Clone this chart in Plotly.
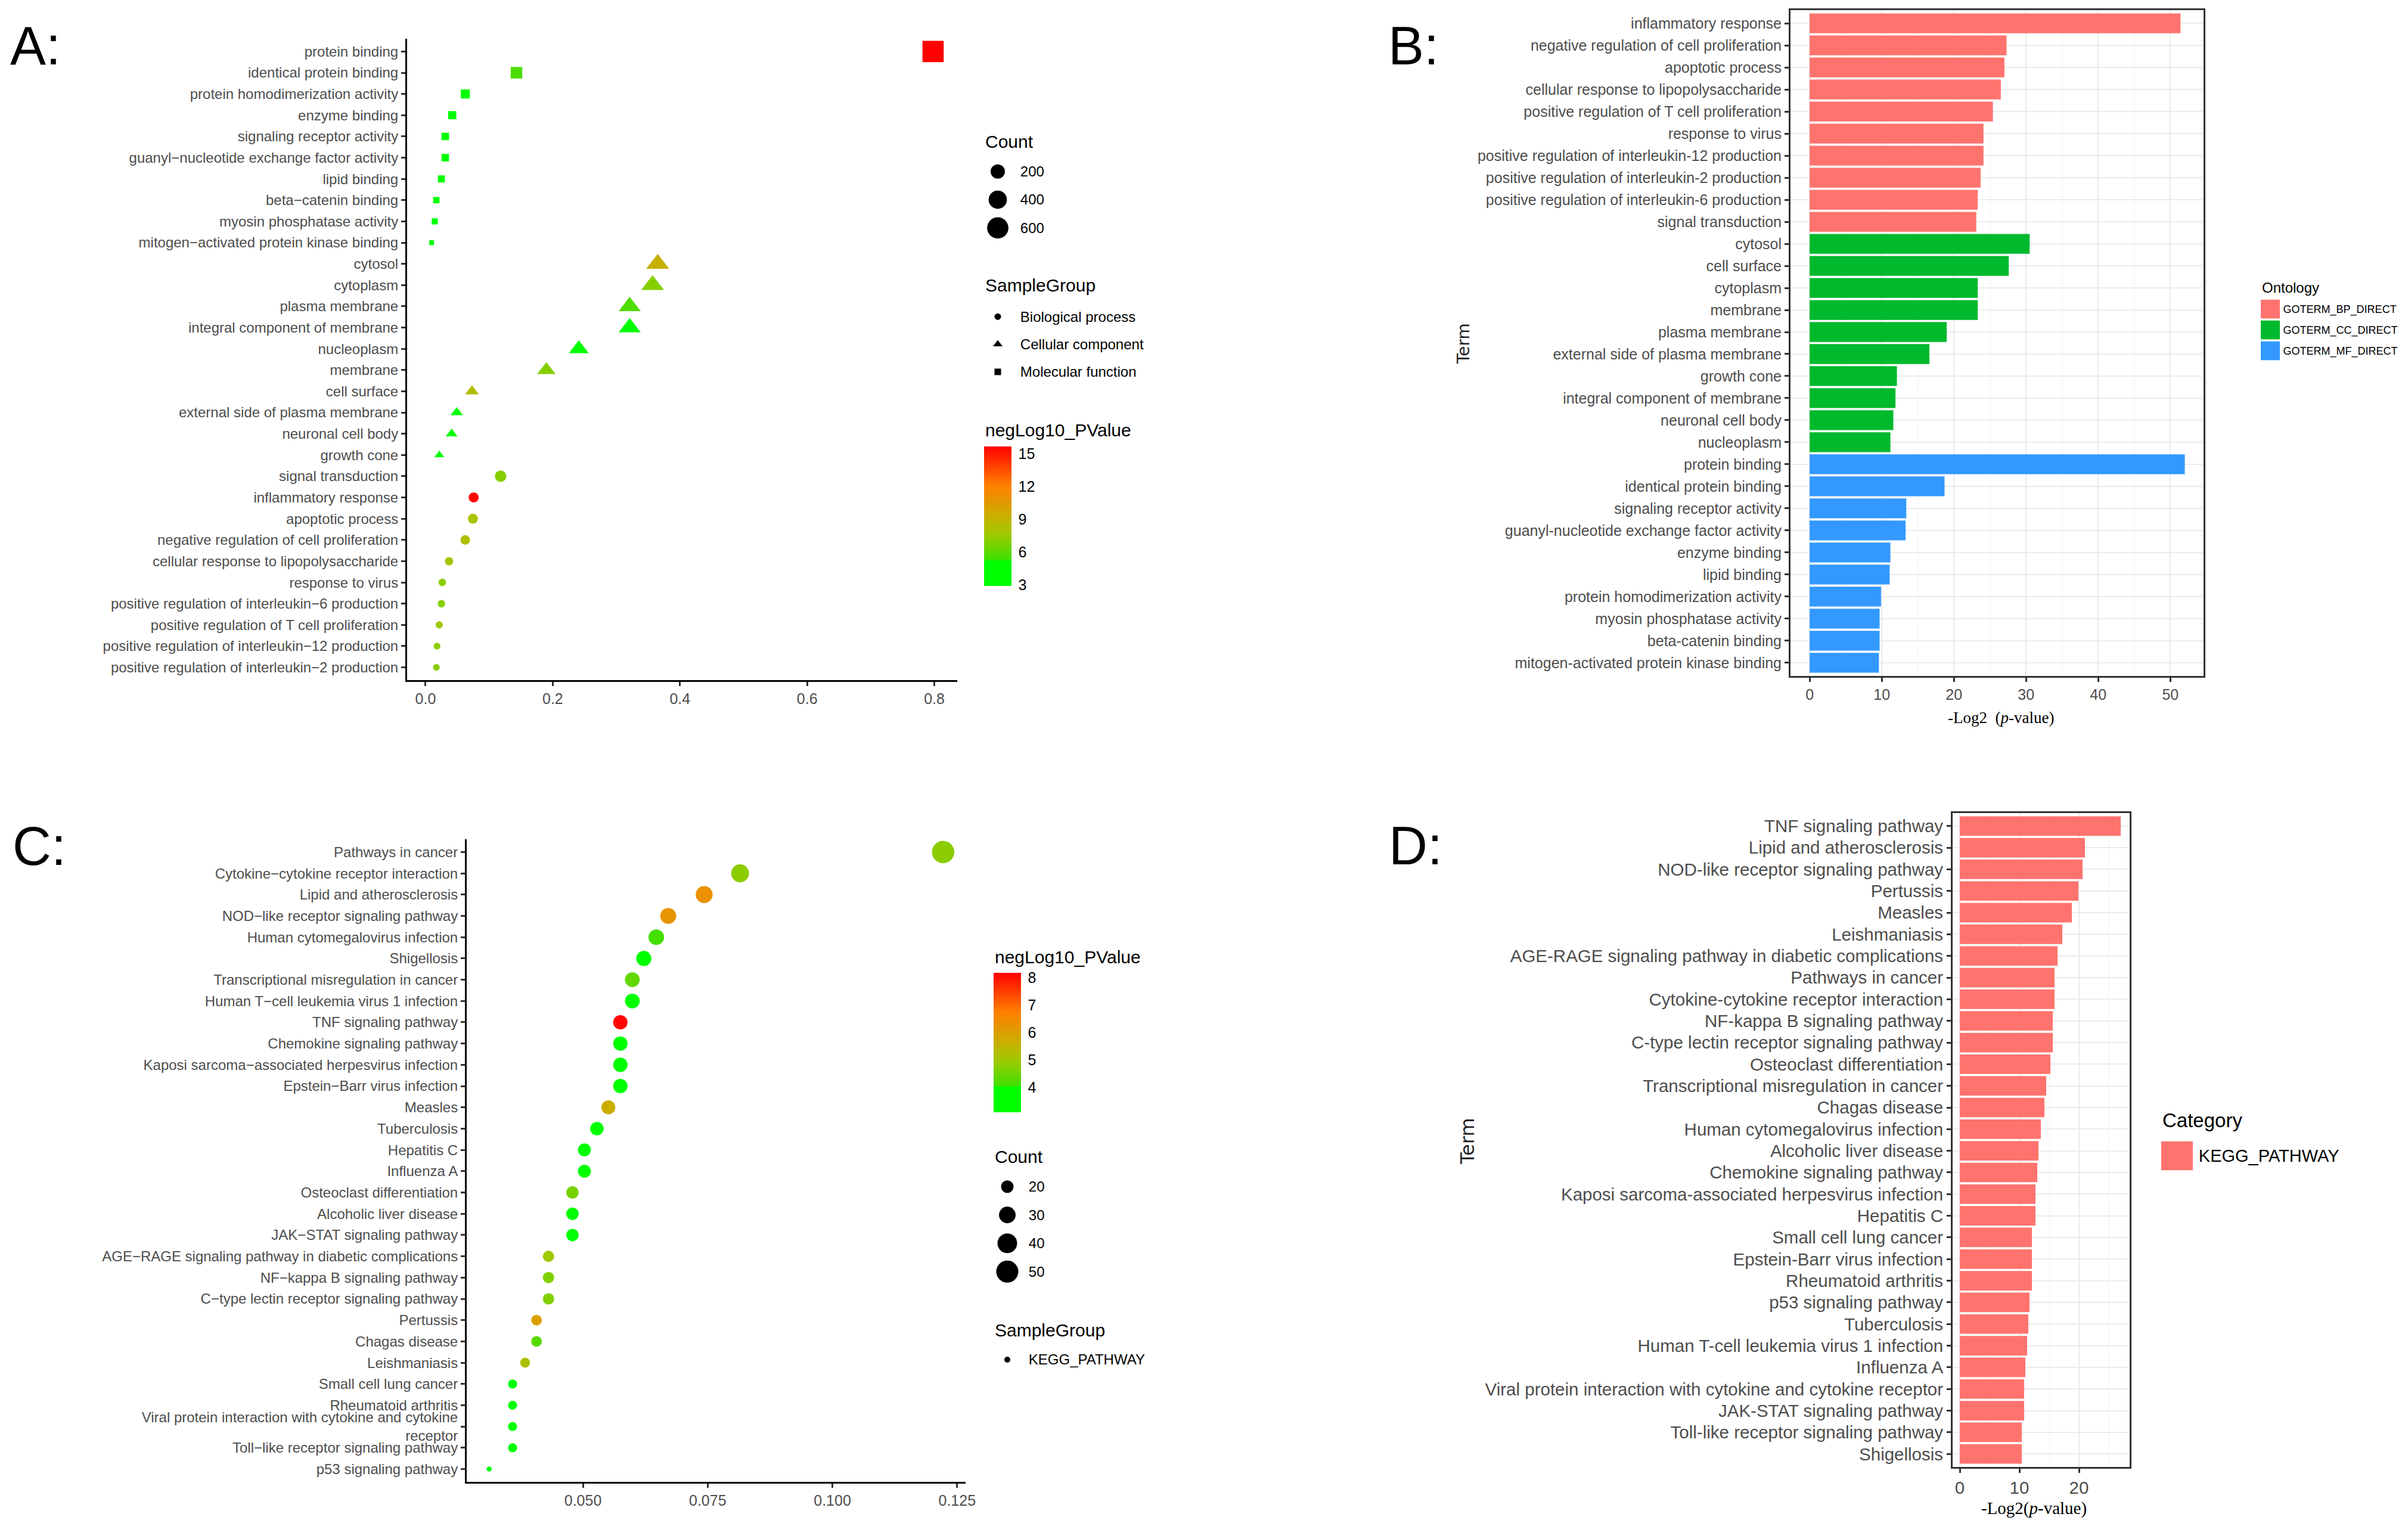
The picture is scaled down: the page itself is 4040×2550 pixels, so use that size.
import math
import plotly.graph_objects as go

W, H = 4040, 2550
PAGE_MARGIN = 8  # the browser's body margin in the written page
FIG_W, FIG_H = W - PAGE_MARGIN, H - PAGE_MARGIN
FONT = "Liberation Sans"
SERIF = "Liberation Serif"
WIDE = "DejaVu Sans"
GREY = "#4d4d4d"

# ===== PANEL A: GO dot plot =====
A_TERMS = ["protein binding", "identical protein binding", "protein homodimerization activity", "enzyme binding",
           "signaling receptor activity", "guanyl−nucleotide exchange factor activity", "lipid binding",
           "beta−catenin binding", "myosin phosphatase activity", "mitogen−activated protein kinase binding",
           "cytosol", "cytoplasm", "plasma membrane", "integral component of membrane", "nucleoplasm", "membrane",
           "cell surface", "external side of plasma membrane", "neuronal cell body", "growth cone",
           "signal transduction", "inflammatory response", "apoptotic process",
           "negative regulation of cell proliferation", "cellular response to lipopolysaccharide", "response to virus",
           "positive regulation of interleukin−6 production", "positive regulation of T cell proliferation",
           "positive regulation of interleukin−12 production", "positive regulation of interleukin−2 production"]
A_RATIO = [0.798, 0.143, 0.0625, 0.042, 0.031, 0.031, 0.025, 0.017, 0.0145, 0.0096,
           0.365, 0.357, 0.321, 0.321, 0.241, 0.19, 0.073, 0.049, 0.041, 0.0216,
           0.118, 0.0757, 0.0745, 0.0625, 0.037, 0.0264, 0.025, 0.0216, 0.018, 0.017]
A_COUNT = [680, 122, 53, 36, 26, 26, 21, 14, 12, 8,
           310, 304, 273, 273, 205, 162, 62, 42, 35, 18,
           100, 64, 63, 53, 31, 22, 21, 18, 15, 14]
A_PVAL = [15.65, 5.6, 3.0, 3.4, 4.0, 4.0, 3.35, 2.95, 2.95, 2.89,
          9.2, 7.0, 5.7, 3.6, 3.4, 7.0, 8.3, 5.0, 3.5, 3.6,
          7.0, 15.5, 8.1, 8.25, 8.0, 7.2, 7.0, 7.6, 7.2, 7.1]
A_GROUP = ["MF"] * 10 + ["CC"] * 10 + ["BP"] * 10
A_COUNT_KEY = ["200", "400", "600"]
A_GROUP_KEY = ["Biological process", "Cellular component", "Molecular function"]
A_CB_TICKS = [3, 6, 9, 12, 15]

# ===== PANEL B: GO bars =====
B_TERMS = ["inflammatory response", "negative regulation of cell proliferation", "apoptotic process",
           "cellular response to lipopolysaccharide", "positive regulation of T cell proliferation", "response to virus",
           "positive regulation of interleukin-12 production", "positive regulation of interleukin-2 production",
           "positive regulation of interleukin-6 production", "signal transduction",
           "cytosol", "cell surface", "cytoplasm", "membrane", "plasma membrane", "external side of plasma membrane",
           "growth cone", "integral component of membrane", "neuronal cell body", "nucleoplasm",
           "protein binding", "identical protein binding", "signaling receptor activity",
           "guanyl-nucleotide exchange factor activity", "enzyme binding", "lipid binding",
           "protein homodimerization activity", "myosin phosphatase activity", "beta-catenin binding",
           "mitogen-activated protein kinase binding"]
B_VALUES = [51.4, 27.3, 27.0, 26.5, 25.4, 24.1, 24.1, 23.7, 23.3, 23.1,
            30.5, 27.6, 23.3, 23.3, 19.0, 16.6, 12.1, 11.9, 11.6, 11.2,
            52.0, 18.7, 13.4, 13.3, 11.2, 11.1, 9.9, 9.7, 9.7, 9.6]
B_ONTOLOGY = ["GOTERM_BP_DIRECT"] * 10 + ["GOTERM_CC_DIRECT"] * 10 + ["GOTERM_MF_DIRECT"] * 10
B_ONTOLOGY_KEY = ["GOTERM_BP_DIRECT", "GOTERM_CC_DIRECT", "GOTERM_MF_DIRECT"]

# ===== PANEL C: KEGG dot plot =====
C_TERMS = ["Pathways in cancer", "Cytokine−cytokine receptor interaction", "Lipid and atherosclerosis",
           "NOD−like receptor signaling pathway", "Human cytomegalovirus infection", "Shigellosis",
           "Transcriptional misregulation in cancer", "Human T−cell leukemia virus 1 infection",
           "TNF signaling pathway", "Chemokine signaling pathway", "Kaposi sarcoma−associated herpesvirus infection",
           "Epstein−Barr virus infection", "Measles", "Tuberculosis", "Hepatitis C", "Influenza A",
           "Osteoclast differentiation", "Alcoholic liver disease", "JAK−STAT signaling pathway",
           "AGE−RAGE signaling pathway in diabetic complications", "NF−kappa B signaling pathway",
           "C−type lectin receptor signaling pathway", "Pertussis", "Chagas disease", "Leishmaniasis",
           "Small cell lung cancer", "Rheumatoid arthritis",
           "Viral protein interaction with cytokine and cytokine<br>receptor",
           "Toll−like receptor signaling pathway", "p53 signaling pathway"]
C_RATIO = [0.1222, 0.0815, 0.0743, 0.0671, 0.0647, 0.0622, 0.0599, 0.0599, 0.0575, 0.0575,
           0.0575, 0.0575, 0.0551, 0.0528, 0.0503, 0.0503, 0.0479, 0.0479, 0.0479, 0.0431,
           0.0431, 0.0431, 0.0407, 0.0407, 0.0384, 0.0359, 0.0359, 0.0359, 0.0359, 0.0312]
C_COUNT = [51, 34, 31, 28, 27, 26, 25, 25, 24, 24, 24, 24, 23, 22, 21, 21, 20, 20, 20, 18,
           18, 18, 17, 17, 16, 15, 15, 15, 15, 13]
C_PVAL = [4.8, 4.8, 6.3, 6.2, 4.1, 3.16, 4.4, 3.4, 8.13, 3.9, 3.9, 3.6, 5.7, 3.5, 3.85, 3.3,
          4.6, 4.0, 3.3, 5.0, 4.7, 4.7, 6.0, 4.3, 5.2, 3.6, 3.6, 3.3, 3.16, 3.55]
C_COUNT_KEY = ["20", "30", "40", "50"]
C_GROUP_KEY = ["KEGG_PATHWAY"]
C_CB_TICKS = [4, 5, 6, 7, 8]

# ===== PANEL D: KEGG bars =====
D_TERMS = ["TNF signaling pathway", "Lipid and atherosclerosis", "NOD-like receptor signaling pathway", "Pertussis",
           "Measles", "Leishmaniasis", "AGE-RAGE signaling pathway in diabetic complications", "Pathways in cancer",
           "Cytokine-cytokine receptor interaction", "NF-kappa B signaling pathway",
           "C-type lectin receptor signaling pathway", "Osteoclast differentiation",
           "Transcriptional misregulation in cancer", "Chagas disease", "Human cytomegalovirus infection",
           "Alcoholic liver disease", "Chemokine signaling pathway", "Kaposi sarcoma-associated herpesvirus infection",
           "Hepatitis C", "Small cell lung cancer", "Epstein-Barr virus infection", "Rheumatoid arthritis",
           "p53 signaling pathway", "Tuberculosis", "Human T-cell leukemia virus 1 infection", "Influenza A",
           "Viral protein interaction with cytokine and cytokine receptor", "JAK-STAT signaling pathway",
           "Toll-like receptor signaling pathway", "Shigellosis"]
D_VALUES = [27.0, 21.0, 20.6, 19.9, 18.8, 17.2, 16.4, 15.9, 15.9, 15.6,
            15.6, 15.2, 14.5, 14.2, 13.6, 13.2, 13.0, 12.7, 12.7, 12.1,
            12.1, 12.1, 11.7, 11.5, 11.3, 11.0, 10.8, 10.8, 10.4, 10.4]
D_CATEGORY_KEY = ["KEGG_PATHWAY"]

# ===== STYLE =====
COLORSCALE = [[0, "#00ff00"], [0.18, "#00ff00"], [0.19, "#40e000"], [0.375, "#a0c800"], [0.5, "#c8b000"],
              [0.65, "#f08c00"], [0.72, "#ff8000"], [1, "#ff0000"]]
ONTOLOGY_COLORS = {"GOTERM_BP_DIRECT": "#ff736e", "GOTERM_CC_DIRECT": "#00b92d", "GOTERM_MF_DIRECT": "#3399ff"}
SYMBOLS = {"BP": "circle", "CC": "triangle-up", "MF": "square"}
SHAPE_SCALE = {"BP": 1.0, "CC": 1.2, "MF": 0.95}


def fx(px):
    return (px - PAGE_MARGIN) / FIG_W


def fy(py):
    return 1 - (py - PAGE_MARGIN) / FIG_H


def gg_size(count, lo, hi):
    # same idea as ggplot's scale_size: area follows the count
    return 8.5 + 29 * math.sqrt((count - lo) / (hi - lo))


fig = go.Figure()
layout = {}
annotations = []
shapes = []
next_axis = [1]


def new_axes(x_box, y_box, xopts, yopts):
    n = next_axis[0]
    next_axis[0] += 1
    sx = "" if n == 1 else str(n)
    layout["xaxis" + sx] = dict(domain=[fx(x_box[0]), fx(x_box[1])], anchor="y" + sx, **xopts)
    layout["yaxis" + sx] = dict(domain=[fy(y_box[1]), fy(y_box[0])], anchor="x" + sx, **yopts)
    return "x" + sx, "y" + sx


def label(text, x, y, size, **kw):
    opts = dict(xanchor="left", yanchor="middle", showarrow=False, xref="paper", yref="paper",
                x=fx(x), y=fy(y), text=text, font=dict(size=size, family=kw.pop("family", FONT), color=kw.pop("color", "black")))
    opts.update(kw)
    annotations.append(opts)


def category_axis(terms, size, **kw):
    return dict(type="category", categoryorder="array", categoryarray=terms, range=[len(terms) - 0.4, -0.6],
                tickmode="array", tickvals=terms, ticktext=terms, tickfont=dict(size=size, color=GREY, family=FONT),
                ticks="outside", ticklen=7, tickwidth=2.5, tickcolor="#333333", showgrid=False, zeroline=False, **kw)


def dot_panel(x_box, y_box, terms, ratio, counts, pvals, symbols, sizes, xrange, xticks, xfmt, cbar, font_size):
    xa, ya = new_axes(x_box, y_box,
                      dict(range=xrange, tickvals=xticks, tickformat=xfmt, showline=True, linecolor="black",
                           linewidth=3, ticks="outside", ticklen=7, tickwidth=2.5, tickcolor="#333333",
                           showgrid=False, zeroline=False, tickfont=dict(size=25, color=GREY, family=FONT)),
                      dict(showline=True, linecolor="black", linewidth=3, **category_axis(terms, font_size)))
    fig.add_trace(go.Scatter(x=ratio, y=terms, mode="markers", xaxis=xa, yaxis=ya, showlegend=False,
                             customdata=counts,
                             marker=dict(color=pvals, symbol=symbols, size=sizes, opacity=1, line=dict(width=0),
                                         colorscale=COLORSCALE, cmin=cbar["cmin"], cmax=cbar["cmax"],
                                         colorbar=dict(x=fx(cbar["x"]), xanchor="left", y=fy(cbar["y1"]), yanchor="bottom",
                                                       len=cbar["y1"] - cbar["y0"], lenmode="pixels",
                                                       thickness=46, thicknessmode="pixels", xpad=0, ypad=0,
                                                       outlinewidth=0, borderwidth=0, tickvals=cbar["ticks"],
                                                       ticks="outside", ticklen=7, tickcolor="rgba(0,0,0,0)",
                                                       tickfont=dict(size=25, color="black", family=FONT)))))
    # white ticks inside the colour bar, both sides
    per_unit = (cbar["y1"] - cbar["y0"]) / (cbar["cmax"] - cbar["cmin"])
    for t in cbar["ticks"]:
        py = cbar["y1"] - (t - cbar["cmin"]) * per_unit
        for x0, x1 in [(cbar["x"], cbar["x"] + 9), (cbar["x"] + 37, cbar["x"] + 46)]:
            shapes.append(dict(type="line", xref="paper", yref="paper", x0=fx(x0), x1=fx(x1), y0=fy(py), y1=fy(py),
                               line=dict(color="white", width=1.5)))


def key_axes(x_box, y_box, labels, size, gap):
    return new_axes(x_box, y_box,
                    dict(visible=False, range=[-1, 1], fixedrange=True),
                    dict(type="category", categoryorder="array", categoryarray=labels, range=[len(labels) - 0.5, -0.5],
                         side="right", showline=False, showgrid=False, zeroline=False, ticks="outside", ticklen=gap,
                         tickcolor="rgba(0,0,0,0)", tickfont=dict(size=size, color="black", family=FONT),
                         tickmode="array", tickvals=labels, ticktext=labels))


def bar_panel(x_box, y_box, terms, values, colors, xrange, xticks, minor_tick, font_size):
    grid = dict(showgrid=True, gridcolor="#ebebeb", gridwidth=2)
    xa, ya = new_axes(x_box, y_box,
                      dict(range=xrange, tickvals=xticks, showline=True, mirror=True, linecolor="#333333", linewidth=3,
                           ticks="outside", ticklen=7, tickwidth=2.5, tickcolor="#333333", zeroline=False,
                           tickfont=dict(size=font_size, color=GREY, family=FONT),
                           minor=dict(dtick=minor_tick, tick0=0, showgrid=True, gridcolor="#f2f2f2", gridwidth=1, ticks=""),
                           **grid),
                      dict(showline=True, mirror=True, linecolor="#333333", linewidth=3,
                           **{**category_axis(terms, font_size), **grid}))
    fig.add_trace(go.Bar(x=values, y=terms, orientation="h", xaxis=xa, yaxis=ya, showlegend=False,
                         marker=dict(color=colors, line=dict(width=0))))


# ===== A =====
a_lo, a_hi = min(A_COUNT), max(A_COUNT)
dot_panel((683, 1606), (65, 1141), A_TERMS, A_RATIO, A_COUNT, A_PVAL, [SYMBOLS[g] for g in A_GROUP],
          [gg_size(c, a_lo, a_hi) * SHAPE_SCALE[g] for c, g in zip(A_COUNT, A_GROUP)],
          [-0.029, 0.836], [0, 0.2, 0.4, 0.6, 0.8], ".1f",
          dict(cmin=2.89, cmax=15.65, x=1651, y0=749, y1=983, ticks=A_CB_TICKS), 24)
label("A:", 15, 77, 90)
label("Count", 1651, 237, 30)
xa, ya = key_axes((1651, 1697), (264, 406), A_COUNT_KEY, 24, 9)
fig.add_trace(go.Scatter(x=[0] * 3, y=A_COUNT_KEY, mode="markers", xaxis=xa, yaxis=ya, showlegend=False,
                         marker=dict(color="black", opacity=1, size=[gg_size(int(c), a_lo, a_hi) for c in A_COUNT_KEY], line=dict(width=0))))
label("SampleGroup", 1651, 478, 30)
xa, ya = key_axes((1651, 1697), (508, 647), A_GROUP_KEY, 24, 9)
fig.add_trace(go.Scatter(x=[0] * 3, y=A_GROUP_KEY, mode="markers", xaxis=xa, yaxis=ya, showlegend=False,
                         marker=dict(color="black", opacity=1, size=[11, 14, 11], symbol=["circle", "triangle-up", "square"], line=dict(width=0))))
label("negLog10_PValue", 1651, 721, 30)

# ===== B =====
bar_panel((3004, 3697), (17, 1134), B_TERMS, B_VALUES, [ONTOLOGY_COLORS[o] for o in B_ONTOLOGY],
          [-2.65, 54.6], [0, 10, 20, 30, 40, 50], 5, 25)
label("B:", 2327, 77, 90)
label("Term", 2455, 577, 28, textangle=-90, xanchor="center", color="#222222", family=WIDE)
label("-Log2  (<i>p</i>-value)", 3357, 1204, 27, xanchor="center", family=SERIF)
label("Ontology", 3793, 482, 24)
xa, ya = key_axes((3793, 3825), (501, 606), B_ONTOLOGY_KEY, 18, 1)
fig.add_trace(go.Bar(x=[1] * 3, y=B_ONTOLOGY_KEY, orientation="h", xaxis=xa, yaxis=ya, showlegend=False,
                     marker=dict(color=[ONTOLOGY_COLORS[o] for o in B_ONTOLOGY_KEY], line=dict(width=0))))
layout[xa.replace("x", "xaxis")]["range"] = [0, 1]

# ===== C =====
c_lo, c_hi = min(C_COUNT), max(C_COUNT)
dot_panel((783, 1620), (1408, 2486), C_TERMS, C_RATIO, C_COUNT, C_PVAL, "circle",
          [gg_size(c, c_lo, c_hi) for c in C_COUNT],
          [0.0267, 0.1267], [0.05, 0.075, 0.1, 0.125], ".3f",
          dict(cmin=3.1, cmax=8.17, x=1667, y0=1632, y1=1866, ticks=C_CB_TICKS), 24)
label("C:", 19, 1420, 90)
label("negLog10_PValue", 1667, 1605, 30)
label("Count", 1667, 1940, 30)
xa, ya = key_axes((1667, 1713), (1967, 2157), C_COUNT_KEY, 24, 7)
fig.add_trace(go.Scatter(x=[0] * 4, y=C_COUNT_KEY, mode="markers", xaxis=xa, yaxis=ya, showlegend=False,
                         marker=dict(color="black", opacity=1, size=[gg_size(int(c), c_lo, c_hi) for c in C_COUNT_KEY], line=dict(width=0))))
label("SampleGroup", 1667, 2231, 30)
xa, ya = key_axes((1667, 1713), (2258, 2304), C_GROUP_KEY, 24, 7)
fig.add_trace(go.Scatter(x=[0], y=C_GROUP_KEY, mode="markers", xaxis=xa, yaxis=ya, showlegend=False,
                         marker=dict(color="black", size=10, line=dict(width=0))))

# ===== D =====
bar_panel((3276, 3573), (1364, 2461), D_TERMS, D_VALUES, ONTOLOGY_COLORS["GOTERM_BP_DIRECT"],
          [-1.2, 28.5], [0, 10, 20], 5, 29.5)
label("D:", 2328, 1419, 90)
label("Term", 2462, 1915, 32, textangle=-90, xanchor="center", color="#222222", family=WIDE)
label("-Log2(<i>p</i>-value)", 3412, 2530, 29, xanchor="center", family=SERIF)
label("Category", 3626, 1879, 33)
xa, ya = key_axes((3626, 3679), (1912, 1966), D_CATEGORY_KEY, 29, 3)
fig.add_trace(go.Bar(x=[1], y=D_CATEGORY_KEY, orientation="h", xaxis=xa, yaxis=ya, showlegend=False,
                     marker=dict(color=ONTOLOGY_COLORS["GOTERM_BP_DIRECT"], line=dict(width=0))))
layout[xa.replace("x", "xaxis")]["range"] = [0, 1]

fig.update_layout(width=FIG_W, height=FIG_H, margin=dict(l=0, r=0, t=0, b=0, autoexpand=False),
                  paper_bgcolor="white", plot_bgcolor="white", font=dict(family=FONT),
                  bargap=0.1, annotations=annotations, shapes=shapes, **layout)

fig.write_html("out.html")
